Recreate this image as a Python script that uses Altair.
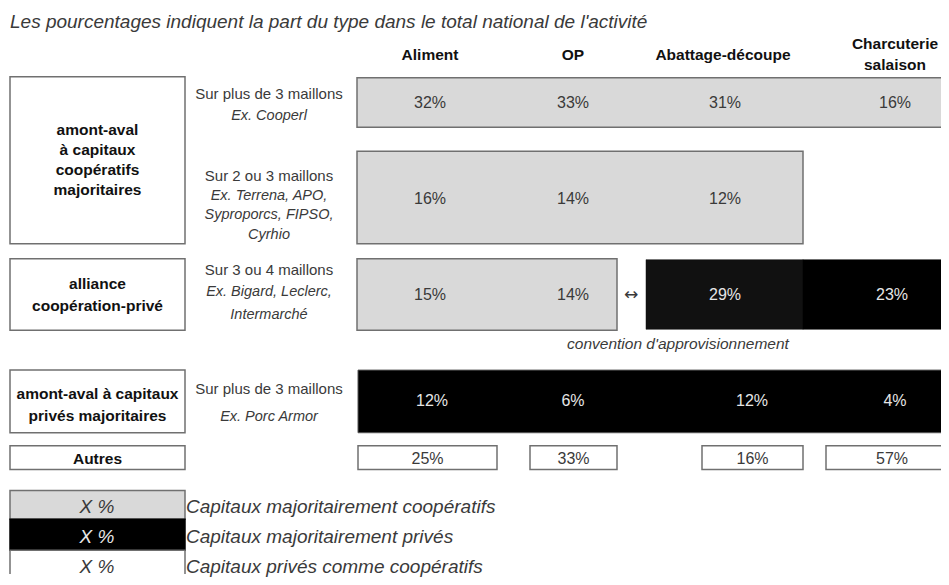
import altair as alt
import pandas as pd

# ---------------- data ----------------
title_text = "Les pourcentages indiquent la part du type dans le total national de l'activité"
activities = ["Aliment", "OP", "Abattage-découpe", "Charcuterie|salaison"]
group_labels = [
    "amont-aval|à capitaux|coopératifs|majoritaires",
    "alliance|coopération-privé",
    "amont-aval à capitaux|privés majoritaires",
    "Autres",
]
descriptions = [
    ("Sur plus de 3 maillons", "Ex. Cooperl"),
    ("Sur 2 ou 3 maillons", "Ex. Terrena, APO,|Syproporcs, FIPSO,|Cyrhio"),
    ("Sur 3 ou 4 maillons", "Ex. Bigard, Leclerc,|Intermarché"),
    ("Sur plus de 3 maillons", "Ex. Porc Armor"),
]
row1_values = [32, 33, 31, 16]          # coop >3 maillons
row2_values = [16, 14, 12]              # coop 2-3 maillons
row3_values = [15, 14, 29, 23]          # alliance
row3_kind = ["coop", "coop", "prive", "prive"]
row4_values = [12, 6, 12, 4]            # privé
autres_values = [25, 33, 16, 57]
convention_label = "convention d'approvisionnement"
legend_sample = "X %"
legend_labels = [
    "Capitaux majoritairement coopératifs",
    "Capitaux majoritairement privés",
    "Capitaux privés comme coopératifs",
]

# ---------------- layout (geometry / styles) ----------------
GRAY, BLACK, WHITE, BORDER = "#d9d9d9", "#000000", "#ffffff", "#707070"
DARK_TXT, LIGHT_TXT = "#3a3a3a", "#e6e6e6"
FONT = "Liberation Sans"
col_x = [430, 573, 725, 895]
col_x_low = [432, 573, 752, 895]
left_box_x = (10, 185)
desc_x = 269
bands = {"r1": (78, 128), "r2": (152, 245), "r3": (260, 332), "r4": (372, 435), "autres": (448, 472)}
group_bands = [(77, 245), (260, 332), (372, 435), (448, 472)]
group_line_y = [[131, 151, 171, 191], [285, 308], [396, 418], [461]]
desc_line_y = [[94, 117], [177, 197, 216, 236], [271, 294, 317], [391, 419]]
value_y = {"r1": 104, "r2": 200, "r3": 297, "r4": 403, "autres": 461}
header_y = [[55], [55], [55], [44, 65]]
autres_boxes = [(358, 497), (530, 617), (702, 803), (826, 955)]
legend_bands = [(493, 522), (522, 553), (553, 590)]
legend_fill = [GRAY, BLACK, WHITE]
legend_txt_color = [DARK_TXT, LIGHT_TXT, DARK_TXT]
legend_text_y = [510, 540, 570]

rects = []
def box(x, x2, y, y2, fill, stroke=BORDER, sw=1.5):
    rects.append(dict(x=x, x2=x2, y=y, y2=y2, fill=fill, stroke=stroke, sw=sw))

for (y0, y1) in group_bands:
    box(left_box_x[0], left_box_x[1], y0, y1, WHITE)
box(357, 955, *bands["r1"], GRAY)
box(357, 803, *bands["r2"], GRAY)
box(357, 617, *bands["r3"], GRAY)
box(646, 803, 261, 331, "#111111", stroke="#111111", sw=0.5)
box(803, 955, 261, 331, BLACK, stroke=BLACK, sw=0.5)
box(358, 955, *bands["r4"], BLACK, stroke="#555555", sw=1)
for (a, b) in autres_boxes:
    box(a, b, *bands["autres"], WHITE)
for (y0, y1), f in zip(legend_bands, legend_fill):
    box(left_box_x[0], left_box_x[1], y0, y1, f, stroke=BORDER if f != BLACK else BLACK)

texts = []
def txt(x, y, t, style, color=DARK_TXT, size=15):
    texts.append(dict(x=x, y=y, t=t, style=style, color=color, size=size))

txt(10, 22, title_text, "italic_left", size=19)
for i, a in enumerate(activities):
    for line, y in zip(a.split("|"), header_y[i]):
        txt(col_x[i] if i != 2 else 723, y, line, "bold", color="#111111", size=15.5)
for g, ys in zip(group_labels, group_line_y):
    for line, y in zip(g.split("|"), ys):
        txt((left_box_x[0] + left_box_x[1]) / 2, y, line, "bold", color="#111111", size=15.5)
for (d1, d2), ys in zip(descriptions, desc_line_y):
    txt(desc_x, ys[0], d1, "normal", size=15)
    for line, y in zip(d2.split("|"), ys[1:]):
        txt(desc_x, y, line, "italic", size=14.5)
for i, v in enumerate(row1_values):
    txt(col_x[i], value_y["r1"], f"{v}%", "normal", size=16)
for i, v in enumerate(row2_values):
    txt(col_x[i], value_y["r2"], f"{v}%", "normal", size=16)
for i, (v, k) in enumerate(zip(row3_values, row3_kind)):
    txt(col_x[i] if i < 3 else 892, value_y["r3"], f"{v}%", "normal",
        color=DARK_TXT if k == "coop" else LIGHT_TXT, size=16)
for i, v in enumerate(row4_values):
    txt(col_x_low[i], value_y["r4"], f"{v}%", "normal", color=LIGHT_TXT, size=16)
for i, v in enumerate(autres_values):
    a, b = autres_boxes[i]
    txt((a + b) / 2 if i < 3 else 892, value_y["autres"], f"{v}%", "normal", size=16)
txt(631, 297, "↔", "symbol", size=17)
txt(678, 346, convention_label, "italic", size=15.5)
for lab, y, c in zip(legend_labels, legend_text_y, legend_txt_color):
    txt(97, y, legend_sample, "italic", color=c, size=19)
    txt(186, y, lab, "italic_left", size=19)

rect_df = pd.DataFrame(rects)
text_df = pd.DataFrame(texts)

W, H = 933, 569
xs = alt.Scale(domain=[8, 8 + W], nice=False, zero=False)
ys = alt.Scale(domain=[8, 8 + H], nice=False, zero=False, reverse=True)

rect_layer = alt.Chart(rect_df).mark_rect(clip=True).encode(
    x=alt.X("x:Q", scale=xs, axis=None),
    x2="x2:Q",
    y=alt.Y("y:Q", scale=ys, axis=None),
    y2="y2:Q",
    fill=alt.Fill("fill:N", scale=None),
    stroke=alt.Stroke("stroke:N", scale=None),
    strokeWidth=alt.StrokeWidth("sw:Q", scale=None),
)

def text_layer(style, font=FONT, **kw):
    return alt.Chart(text_df).transform_filter(alt.datum.style == style).mark_text(
        font=font, baseline="middle", **kw
    ).encode(
        x=alt.X("x:Q", scale=xs, axis=None),
        y=alt.Y("y:Q", scale=ys, axis=None),
        text="t:N",
        color=alt.Color("color:N", scale=None),
        size=alt.Size("size:Q", scale=None),
    )

chart = alt.layer(
    rect_layer,
    text_layer("normal", align="center"),
    text_layer("italic", align="center", fontStyle="italic"),
    text_layer("bold", align="center", fontWeight="bold"),
    text_layer("italic_left", align="left", fontStyle="italic"),
    text_layer("symbol", font="DejaVu Sans", align="center"),
).properties(
    width=W, height=H,
    autosize=alt.AutoSizeParams(type="fit", contains="padding"),
    padding=0,
).configure_view(stroke=None)

chart.save("out.html", embed_options={"renderer": "svg", "actions": False})
